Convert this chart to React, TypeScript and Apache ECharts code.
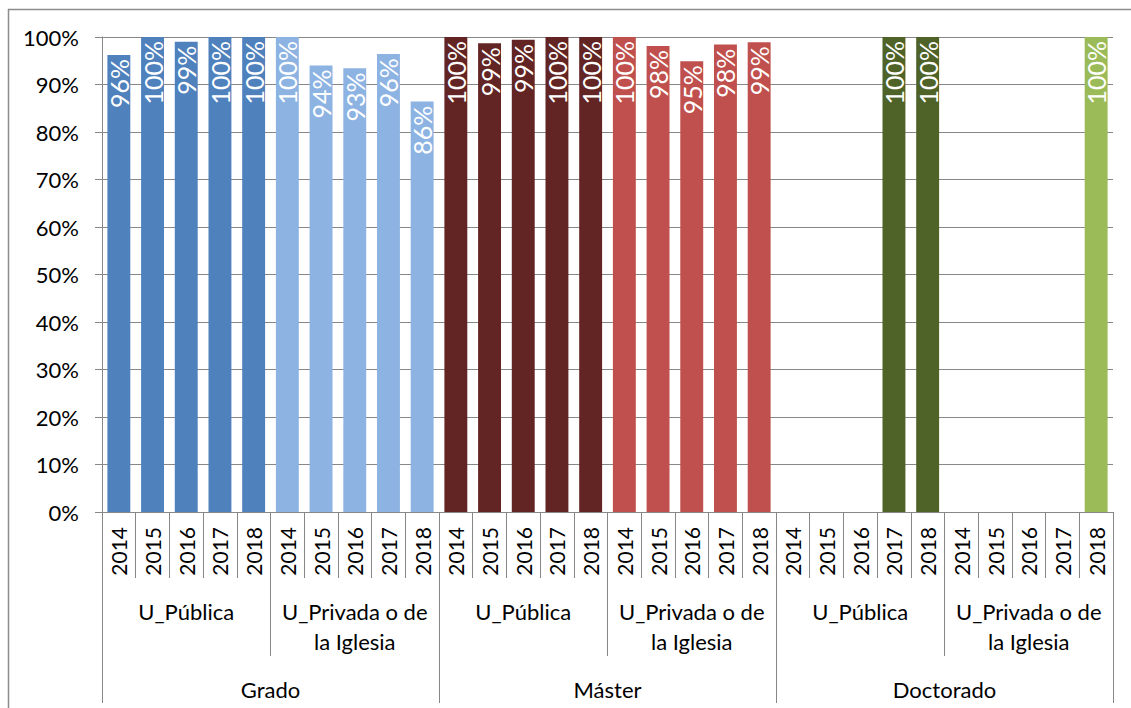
import React, { useEffect, useRef } from "react";
import * as echarts from "echarts";

const years = ["2014", "2015", "2016", "2017", "2018"];
const universityTypes = ["U_Pública", "U_Privada o de\nla Iglesia"];
const levels = ["Grado", "Máster", "Doctorado"];

const gradoPublica = [96.2, 100, 99.0, 100, 100];
const gradoPrivada = [100, 94.0, 93.4, 96.4, 86.4];
const masterPublica = [100, 98.7, 99.4, 100, 100];
const masterPrivada = [100, 98.1, 94.9, 98.4, 98.9];
const doctoradoPublica = [null, null, null, 100, 100];
const doctoradoPrivada = [null, null, null, null, 100];

const groupValues = [gradoPublica, gradoPrivada, masterPublica, masterPrivada, doctoradoPublica, doctoradoPrivada];
const groupColors = ["#4F81BD", "#8DB3E2", "#632523", "#C0504D", "#4F6228", "#9BBB59"];

const yTicks = [0, 10, 20, 30, 40, 50, 60, 70, 80, 90, 100];

const FONT = "Lato";
const GREY = "#878787";

export default function App() {
  const ref = useRef<HTMLDivElement>(null);
  useEffect(() => {
    if (!ref.current) return;
    const chart = echarts.init(ref.current, null, { renderer: "svg" });

    const yearCats: string[] = [];
    const data: any[] = [];
    groupValues.forEach((vals, gi) => {
      vals.forEach((v, yi) => {
        yearCats.push(years[yi]);
        data.push({ value: v, itemStyle: { color: groupColors[gi] } });
      });
    });
    const typeCats: string[] = [];
    levels.forEach(() => universityTypes.forEach((t) => typeCats.push(t)));

    const grid = { left: 102, right: 18, top: 37, bottom: 196 };

    chart.setOption({
      animation: false,
      backgroundColor: "#ffffff",
      textStyle: { fontFamily: FONT },
      grid,
      graphic: [
        { type: "line", shape: { x1: 8, y1: 9.5, x2: 1131, y2: 9.5 }, style: { stroke: "#8c8c8c", lineWidth: 1.5 } },
        { type: "line", shape: { x1: 8.5, y1: 9, x2: 8.5, y2: 708 }, style: { stroke: "#8c8c8c", lineWidth: 1.5 } },
      ],
      yAxis: {
        type: "value",
        min: 0,
        max: 100,
        interval: 10,
        axisLine: { show: true, lineStyle: { color: GREY } },
        axisTick: { show: true, length: 7, lineStyle: { color: GREY } },
        splitLine: { show: true, lineStyle: { color: GREY, width: 1 } },
        axisLabel: {
          color: "#000",
          fontFamily: FONT,
          fontSize: 22,
          margin: 23,
          formatter: (v: number) => (yTicks.includes(v) ? v + "%" : ""),
        },
      },
      xAxis: [
        {
          type: "category",
          data: yearCats,
          position: "bottom",
          axisLine: { show: true, lineStyle: { color: GREY } },
          axisTick: { show: true, interval: 0, length: 66, lineStyle: { color: GREY } },
          axisLabel: {
            interval: 0,
            rotate: 90,
            color: "#000",
            fontFamily: FONT,
            fontSize: 21,
            margin: 15,
          },
        },
        {
          type: "category",
          data: typeCats,
          position: "bottom",
          axisLine: { show: false },
          axisTick: { show: true, interval: 0, length: 144, lineStyle: { color: GREY } },
          axisLabel: {
            interval: 0,
            color: "#000",
            fontFamily: FONT,
            fontSize: 22,
            lineHeight: 30,
            margin: 84,
            align: "center",
          },
        },
        {
          type: "category",
          data: levels,
          position: "bottom",
          axisLine: { show: false },
          axisTick: { show: true, interval: 0, length: 191, lineStyle: { color: GREY } },
          axisLabel: {
            interval: 0,
            color: "#000",
            fontFamily: FONT,
            fontSize: 22,
            lineHeight: 30,
            margin: 162,
          },
        },
      ],
      series: [
        {
          type: "bar",
          xAxisIndex: 0,
          data,
          barWidth: "68%",
          label: {
            show: true,
            position: "insideTop",
            rotate: 90,
            align: "right",
            verticalAlign: "middle",
            distance: 4,
            color: "#ffffff",
            fontFamily: FONT,
            fontSize: 25,
            formatter: (p: any) => (p.value == null ? "" : Math.round(p.value) + "%"),
          },
        },
      ],
    });
    return () => chart.dispose();
  }, []);
  return (
    <div
      ref={ref}
      style={{ position: "fixed", left: 0, top: 0, width: 1131, height: 708, background: "#fff" }}
    />
  );
}
